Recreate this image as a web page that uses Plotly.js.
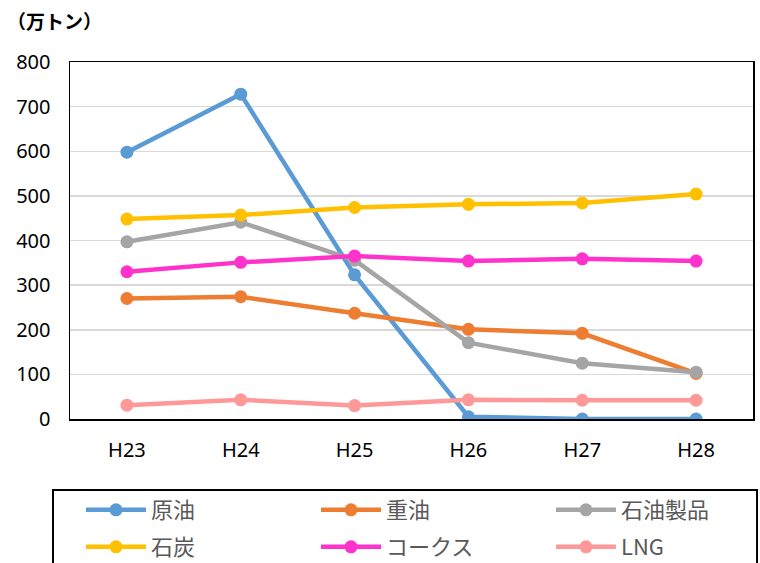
<!DOCTYPE html>
<html><head><meta charset="utf-8">
<script src="https://cdn.plot.ly/plotly-3.0.1.min.js"></script>
<style>html,body{margin:0;padding:0;background:#fff}#chart{width:760px;height:563px}</style>
</head><body><div id="chart"></div>
<script>
const categories = ["H23","H24","H25","H26","H27","H28"];
const seriesNames = ["原油","重油","石油製品","石炭","コークス","LNG"];
const crudeOil = [598, 728, 323, 5, 0, 0];
const heavyOil = [270, 274, 237, 201, 192, 102];
const petroleumProducts = [397, 441, 356, 171, 125, 105];
const coal = [448, 457, 474, 481, 484, 504];
const coke = [330, 351, 365, 354, 359, 354];
const lng = [31, 43, 30, 43, 42, 42];
const yTicks = [0,100,200,300,400,500,600,700,800];

const values = [crudeOil, heavyOil, petroleumProducts, coal, coke, lng];
const colors = ["#5B9BD5","#ED7D31","#A5A5A5","#FFC000","#FF33CC","#FF9999"];
const font = '"Noto Sans","Noto Sans CJK JP",sans-serif';
const cjk = '"Noto Sans CJK JP","Noto Sans",sans-serif';

// legend grid: 3 columns x 2 rows, one legend per entry
const legX = [0.0161, 0.3602, 0.7042];
const legY = [-0.2549, -0.3585];

const traces = values.map((v,i)=>({
  type:"scatter", mode:"lines+markers", name:seriesNames[i],
  x:categories, y:v,
  line:{color:colors[i], width:4.5},
  marker:{color:colors[i], size:13},
  legend: i === 0 ? "legend" : "legend" + (i+1)
}));

const layout = {
  width:760, height:563,
  margin:{l:70, r:7, t:62, b:144, autoexpand:false},
  paper_bgcolor:"#fff", plot_bgcolor:"#fff",
  font:{family:font, size:20, color:"#000"},
  showlegend:true,
  xaxis:{type:"category", range:[-0.5, categories.length - 0.5], showline:true, mirror:true,
         linecolor:"#000", linewidth:1.5,
         showgrid:false, ticks:"", ticklabelstandoff:12, tickfont:{size:20, color:"#000"}},
  yaxis:{range:[0,800], tickvals:yTicks, showline:true, mirror:true, linecolor:"#000", linewidth:1.5,
         gridcolor:"#D9D9D9", gridwidth:1.5, zeroline:false, ticks:"", ticklabelstandoff:14,
         tickfont:{size:20, color:"#000"}},
  shapes:[{type:"rect", xref:"paper", yref:"paper", x0:-0.0249, x1:1.0059, y0:-0.1989, y1:-0.55,
           line:{color:"#000", width:2}, fillcolor:"rgba(0,0,0,0)", layer:"below"}],
  annotations:[{text:"<b>（万トン）</b>", xref:"paper", yref:"paper", x:-0.095, y:1.115,
                xanchor:"left", yanchor:"middle", showarrow:false,
                font:{family:cjk, size:19, color:"#000"}}]
};
for (let i = 0; i < 6; i++) {
  const key = i === 0 ? "legend" : "legend" + (i+1);
  layout[key] = {orientation:"h", x:legX[i % 3], xanchor:"left", y:legY[Math.floor(i/3)], yanchor:"middle",
                 borderwidth:0, bgcolor:"rgba(0,0,0,0)", itemwidth:60,
                 font:{family:cjk, size:22, color:"#595959"}};
}
Plotly.newPlot("chart", traces, layout, {displayModeBar:false, staticPlot:true});
</script></body></html>
